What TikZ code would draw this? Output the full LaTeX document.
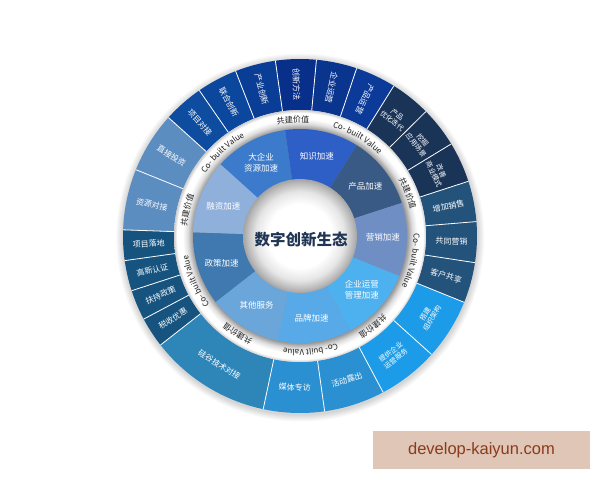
\documentclass[tikz,border=0pt]{standalone}
\usepackage{fontspec}
\newfontfamily\cjk{Noto Sans CJK SC}
\newfontfamily\wmfont{Liberation Sans}
\usetikzlibrary{decorations.text}

% outer ring colours
\definecolor{dbA}{HTML}{0D4C9F}
\definecolor{dbB}{HTML}{0B479C}
\definecolor{dbC}{HTML}{0A3D95}
\definecolor{dbD}{HTML}{08308A}
\definecolor{dbE}{HTML}{0A358F}
\definecolor{dbF}{HTML}{0B3A98}
\definecolor{navyg}{HTML}{1A3457}
\definecolor{steel}{HTML}{23527B}
\definecolor{brightb}{HTML}{1C9CE8}
\definecolor{medb}{HTML}{2A90D2}
\definecolor{tealb}{HTML}{2E85B8}
\definecolor{dteal}{HTML}{16547F}
\definecolor{lsteel}{HTML}{5B8DC1}
% inner ring colours
\definecolor{iA}{HTML}{3C7BCB}
\definecolor{iB}{HTML}{2E5FC6}
\definecolor{iC}{HTML}{385A84}
\definecolor{iD}{HTML}{6F8FC4}
\definecolor{iE}{HTML}{4DB1F0}
\definecolor{iF}{HTML}{58A9E8}
\definecolor{iG}{HTML}{6BA6DA}
\definecolor{iH}{HTML}{3F79B0}
\definecolor{iI}{HTML}{90B0DC}
\definecolor{centertext}{HTML}{1F3553}
\definecolor{bandtextc}{HTML}{222222}
\definecolor{wmbg}{HTML}{DFC6B6}
\definecolor{wmtext}{HTML}{8A3B1C}

% TikZ maps the central 50bp square of a shading onto the path: edge = 25bp
\pgfdeclareradialshading{diskshade}{\pgfpoint{0bp}{0bp}}{color(0bp)=(white); color(14bp)=(white); color(19.5bp)=(black!10); color(23.5bp)=(black!28); color(25bp)=(black!36); color(50bp)=(black!36)}
\pgfdeclareradialshading{bandshade}{\pgfpoint{0bp}{0bp}}{color(0bp)=(black!50); color(21.2bp)=(black!42); color(22.3bp)=(black!13); color(23.3bp)=(white); color(24.4bp)=(white); color(25bp)=(black!20); color(50bp)=(black!20)}

\newcommand\ringseg[5]{\fill[#5] (#1:#4pt) arc[start angle=#1, end angle=#2, radius=#4pt] -- (#2:#3pt) arc[start angle=#2, end angle=#1, radius=#3pt] -- cycle;}
\newcommand\bandfont{\cjk\fontsize{8}{8}\selectfont}
\newcommand\bandtext[2]{\path[decorate, decoration={text along path, text={|\bandfont|#2}, text align=center, text color=bandtextc}] (#1+25:113.5pt) arc[start angle=#1+25, end angle=#1-25, radius=113.5pt];}

\tikzset{
  olab/.style={text=white, font=\cjk\fontsize{8}{9}\selectfont, inner sep=0pt, align=center},
  olabtwo/.style={olab, font=\cjk\fontsize{7}{8.2}\selectfont},
  ilab/.style={text=white, font=\cjk\fontsize{8.5}{11.5}\selectfont, inner sep=0pt, align=center},
  divline/.style={white, line width=0.8pt},
  ctext/.style={text=centertext, font=\cjk\bfseries\fontsize{15.5}{17}\selectfont, inner sep=0pt},
  wm/.style={text=wmtext, font=\wmfont\fontsize{16.5}{18}\selectfont, inner sep=0pt}
}

\begin{document}
\begin{tikzpicture}[x=1pt,y=1pt]
\useasboundingbox (0,0) rectangle (600,480);
\fill[white] (0,0) rectangle (600,480);

\begin{scope}[shift={(300,244)}]
  % soft shadow
  \foreach \i in {7,6,...,1} \fill[black, opacity=0.025] (0.3,-1.5) circle[radius=177pt+\i pt];

  % outer ring
  \ringseg{124.67}{138}{126}{177}{dbA}
  \ringseg{111.33}{124.67}{126}{177}{dbB}
  \ringseg{98}{111.33}{126}{177}{dbC}
  \ringseg{84.67}{98}{126}{177}{dbD}
  \ringseg{71.33}{84.67}{126}{177}{dbE}
  \ringseg{58}{71.33}{126}{177}{dbF}
  \ringseg{18}{58}{126}{177}{navyg}
  \ringseg{-22}{18}{126}{177}{steel}
  \ringseg{-62}{-22}{126}{177}{brightb}
  \ringseg{-102}{-62}{126}{177}{medb}
  \ringseg{-142}{-102}{126}{177}{tealb}
  \ringseg{178}{218}{126}{177}{dteal}
  \ringseg{138}{178}{126}{177}{lsteel}
  \foreach \a in {138,124.67,111.33,98,84.67,71.33,58,44.67,31.33,18,4.67,-8.67,-22,-42,-62,-82,-102,-142,208,198,188,178,158}
    \draw[divline] (\a:126pt) -- (\a:177pt);

  % outer labels
  \node[olab, rotate=-48.67] (o1) at (131.33:151.5pt) {项目对接};
  \node[olab, rotate=-62] (o2) at (118:151.5pt) {联合创新};
  \node[olab, rotate=-75.33] (o3) at (104.67:151.5pt) {产业创新};
  \node[olab, rotate=-88.67] (o4) at (91.33:151.5pt) {创新方法};
  \node[olab, rotate=-102] (o5) at (78:151.5pt) {企业运营};
  \node[olab, rotate=-115.33] (o6) at (64.67:151.5pt) {产品运营};
  \node[olabtwo, rotate=-38.67] (o7) at (51.33:151.5pt) {产品\\优化迭代};
  \node[olabtwo, rotate=-52] (o8) at (38:151.5pt) {挖掘\\应用场景};
  \node[olabtwo, rotate=-65.33] (o9) at (24.67:151.5pt) {改善\\商业模式};
  \node[olab, rotate=11.33] (o10) at (11.33:151.5pt) {增加销售};
  \node[olab, rotate=-2] (o11) at (-2:151.5pt) {共同营销};
  \node[olab, rotate=-15.33] (o12) at (-15.33:151.5pt) {客户共享};
  \node[olabtwo, rotate=58] (o13) at (-32:151.5pt) {搭建\\组织架构};
  \node[olabtwo, rotate=38] (o14) at (-52:151.5pt) {提供企业\\运营服务};
  \node[olab, rotate=18] (o15) at (-72:151.5pt) {活动露出};
  \node[olab, rotate=-2] (o16) at (-92:151.5pt) {媒体专访};
  \node[olab, rotate=-32] (o17) at (-122:152pt) {硅谷技术对接};
  \node[olab, rotate=33] (o18) at (213:151.5pt) {税收优惠};
  \node[olab, rotate=23] (o19) at (203:151.5pt) {扶持政策};
  \node[olab, rotate=13] (o20) at (193:151.5pt) {高新认证};
  \node[olab, rotate=3] (o21) at (183:151.5pt) {项目落地};
  \node[olab, rotate=-12] (o22) at (168:151.5pt) {资源对接};
  \node[olab, rotate=-32] (o23) at (148:151.5pt) {直接投资};

  % white band
  \shade[shading=bandshade] (0,0) circle[radius=126pt];
  \bandtext{93.5}{共建价值}
  \bandtext{21.6}{共建价值}
  \bandtext{-51}{共建价值}
  \bandtext{237.4}{共建价值}
  \bandtext{167}{共建价值}
  \bandtext{132.8}{Co- built Value}
  \bandtext{59.6}{Co- built Value}
  \bandtext{-12.6}{Co- built Value}
  \bandtext{-84.7}{Co- built Value}
  \bandtext{203.5}{Co- built Value}

  % inner ring
  \ringseg{98}{138}{56}{107}{iA}
  \ringseg{58}{98}{56}{107}{iB}
  \ringseg{18}{58}{56}{107}{iC}
  \ringseg{-22}{18}{56}{107}{iD}
  \ringseg{-62}{-22}{56}{107}{iE}
  \ringseg{-102}{-62}{56}{107}{iF}
  \ringseg{-142}{-102}{56}{107}{iG}
  \ringseg{178}{218}{56}{107}{iH}
  \ringseg{138}{178}{56}{107}{iI}

  \node[ilab] (i1) at (118:83pt) {大企业\\资源加速};
  \node[ilab] (i2) at (78:81pt) {知识加速};
  \node[ilab] (i3) at (37:82pt) {产品加速};
  \node[ilab] (i4) at (-1:83pt) {营销加速};
  \node[ilab] (i5) at (-41:82pt) {企业运营\\管理加速};
  \node[ilab] (i6) at (-82:83pt) {品牌加速};
  \node[ilab] (i7) at (-122:82pt) {其他服务};
  \node[ilab] (i8) at (199:83pt) {政策加速};
  \node[ilab] (i9) at (159:82pt) {融资加速};

  % centre disk
  \shade[shading=diskshade] (0,0) circle[radius=57pt];
  \node[ctext] (ct) at (1,-4) {数字创新生态};
\end{scope}

% watermark
\fill[wmbg] (373,11) rectangle (590,49);
\node[wm] (wmark) at (481.5,30) {develop-kaiyun.com};
\end{tikzpicture}
\end{document}
